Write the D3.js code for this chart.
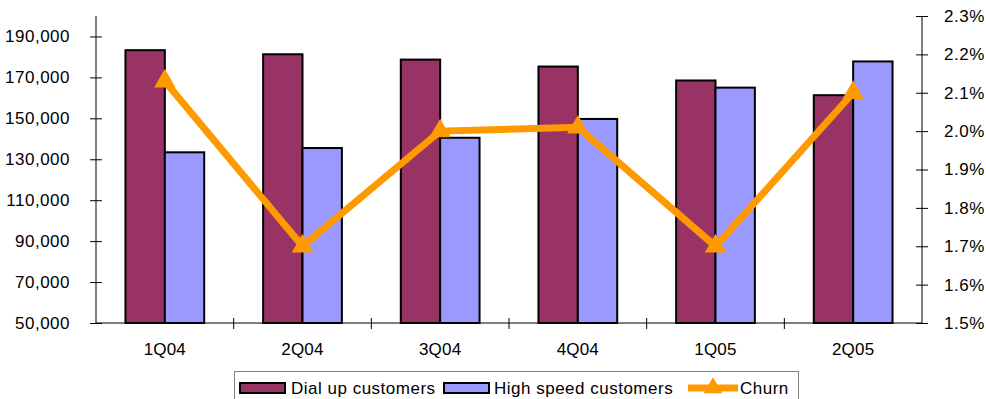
<!DOCTYPE html>
<html>
<head>
<meta charset="utf-8">
<script src="https://cdn.jsdelivr.net/npm/d3@7/dist/d3.min.js"></script>
<style>
  html, body { margin: 0; padding: 0; background: #fff; }
  svg { display: block; font-family: Arial, "Liberation Sans", sans-serif; }
</style>
</head>
<body>
<svg id="chart" width="986" height="399"></svg>
<script>
// Quarterly customer counts and churn rate
const quarters = ["1Q04", "2Q04", "3Q04", "4Q04", "1Q05", "2Q05"];
const dialUp = [183300, 181300, 178700, 175300, 168500, 161300];
const highSpeed = [133400, 135500, 140500, 149700, 165000, 177800];
const churn = [2.13, 1.70, 2.00, 2.01, 1.70, 2.10];
const leftTicks = [50000, 70000, 90000, 110000, 130000, 150000, 170000, 190000];
const rightTicks = [1.5, 1.6, 1.7, 1.8, 1.9, 2.0, 2.1, 2.2, 2.3];
const seriesNames = ["Dial up customers", "High speed customers", "Churn"];

const colors = { dial: "#993366", high: "#9999FF", churn: "#FF9900" };
const FONT = "Arial, 'Liberation Sans', sans-serif";

const svg = d3.select("#chart");
const plot = { left: 96, right: 922, top: 16, bottom: 323 };

const x = d3.scaleBand().domain(quarters).range([plot.left, plot.right]).paddingInner(0).paddingOuter(0);
const yL = d3.scaleLinear().domain([50000, 200000]).range([plot.bottom, plot.top]);
const yR = d3.scaleLinear().domain([1.5, 2.3]).range([plot.bottom, plot.top]);

const groupW = x.bandwidth() * 0.572;
const barW = groupW / 2;
const fmt = d3.format(",");

// Bars
const g = svg.append("g");
quarters.forEach((q, i) => {
  const x0 = x(q) + (x.bandwidth() - groupW) / 2;
  g.append("rect")
    .attr("x", x0).attr("y", yL(dialUp[i]))
    .attr("width", barW).attr("height", yL(50000) - yL(dialUp[i]))
    .attr("fill", colors.dial).attr("stroke", "#000").attr("stroke-width", 2);
  g.append("rect")
    .attr("x", x0 + barW).attr("y", yL(highSpeed[i]))
    .attr("width", barW).attr("height", yL(50000) - yL(highSpeed[i]))
    .attr("fill", colors.high).attr("stroke", "#000").attr("stroke-width", 2);
});

function styleText(sel) {
  sel.attr("font-size", "17px").attr("fill", "#000").attr("font-family", FONT)
    .attr("letter-spacing", "0.5px");
}

// Axes
const leftAxis = svg.append("g").attr("transform", `translate(${plot.left},0)`)
  .call(d3.axisLeft(yL).tickValues(leftTicks).tickFormat(fmt).tickSizeInner(6).tickSizeOuter(0).tickPadding(20));
leftAxis.selectAll(".tick line").attr("x2", 6).attr("x1", -6).attr("stroke", "#000");
leftAxis.select(".domain").attr("stroke", "#000").attr("d", `M0,${plot.top}V${plot.bottom}`);
styleText(leftAxis.selectAll("text"));

const rightAxis = svg.append("g").attr("transform", `translate(${plot.right},0)`)
  .call(d3.axisRight(yR).tickValues(rightTicks).tickFormat(d => d.toFixed(1) + "%").tickSizeInner(6).tickSizeOuter(0).tickPadding(16));
rightAxis.selectAll(".tick line").attr("x1", -6).attr("x2", 6).attr("stroke", "#000");
rightAxis.select(".domain").attr("stroke", "#000").attr("d", `M0,${plot.top}V${plot.bottom}`);
styleText(rightAxis.selectAll("text"));

// Category axis
const bottom = svg.append("g").attr("transform", `translate(0,${plot.bottom})`);
bottom.append("line").attr("x1", plot.left).attr("x2", plot.right).attr("stroke", "#000");
quarters.slice(1).forEach(q => {
  bottom.append("line").attr("x1", x(q)).attr("x2", x(q)).attr("y1", -5).attr("y2", 6).attr("stroke", "#000");
});
quarters.forEach(q => {
  bottom.append("text").attr("x", x(q) + x.bandwidth() / 2).attr("y", 32)
    .attr("text-anchor", "middle").call(styleText).attr("letter-spacing", "0.2px").text(q);
});

// Churn line
const lineGen = d3.line().x((d, i) => x(quarters[i]) + x.bandwidth() / 2).y(d => yR(d));
svg.append("path").datum(churn).attr("d", lineGen)
  .attr("fill", "none").attr("stroke", colors.churn).attr("stroke-width", 7).attr("stroke-linejoin", "miter");
const tri = d3.symbol().type(d3.symbolTriangle).size(200);
svg.selectAll(".mk").data(churn).enter().append("path")
  .attr("transform", (d, i) => `translate(${x(quarters[i]) + x.bandwidth() / 2},${yR(d)})`)
  .attr("d", tri).attr("fill", colors.churn);

// Legend
const lg = svg.append("g");
lg.append("rect").attr("x", 234.5).attr("y", 371.5).attr("width", 564).attr("height", 40)
  .attr("fill", "#fff").attr("stroke", "#808080").attr("stroke-width", 1);
const ly = 388;
lg.append("rect").attr("x", 240).attr("y", 383).attr("width", 45).attr("height", 10)
  .attr("fill", colors.dial).attr("stroke", "#000").attr("stroke-width", 2);
lg.append("text").attr("x", 291).attr("y", 394).call(styleText).text(seriesNames[0]);
lg.append("rect").attr("x", 444).attr("y", 383).attr("width", 45).attr("height", 10)
  .attr("fill", colors.high).attr("stroke", "#000").attr("stroke-width", 2);
lg.append("text").attr("x", 494).attr("y", 394).call(styleText).text(seriesNames[1]);
lg.append("line").attr("x1", 688).attr("x2", 738).attr("y1", ly).attr("y2", ly)
  .attr("stroke", colors.churn).attr("stroke-width", 7);
lg.append("path").attr("transform", `translate(713,${ly})`).attr("d", d3.symbol().type(d3.symbolTriangle).size(150)).attr("fill", colors.churn);
lg.append("text").attr("x", 740).attr("y", 394).call(styleText).text(seriesNames[2]);
</script>
</body>
</html>
